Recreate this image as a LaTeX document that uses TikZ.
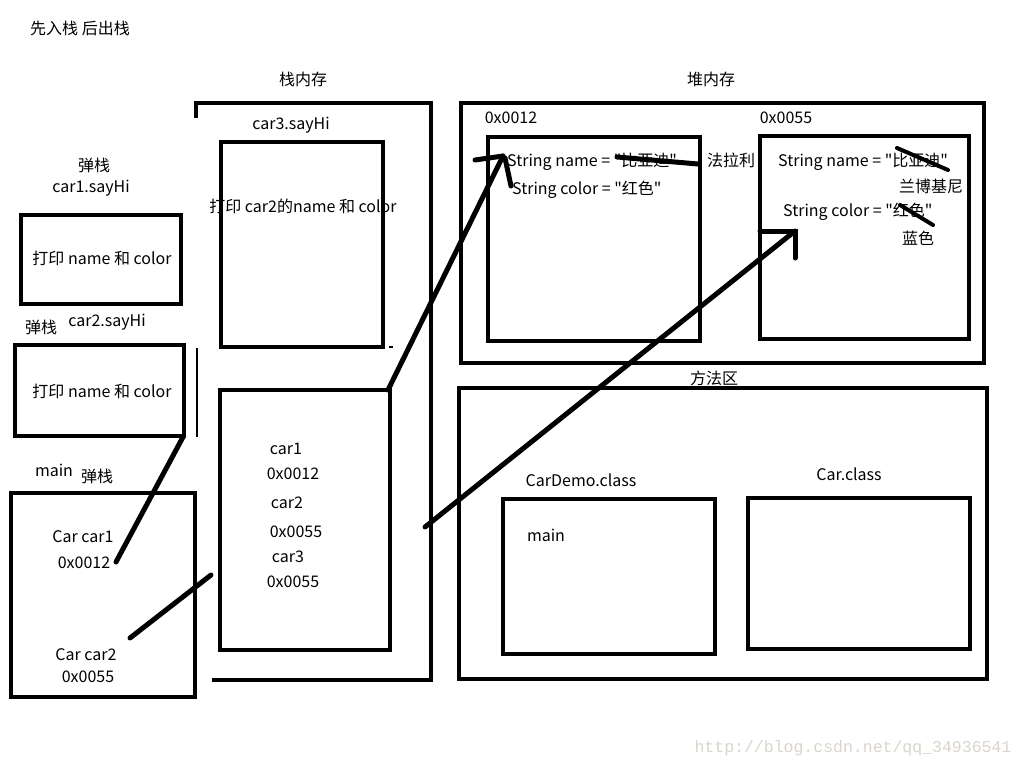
\documentclass[tikz,border=0pt]{standalone}
\usepackage{fontspec}
\newfontfamily\cjk{Noto Sans CJK SC}
\newfontfamily\wmfont{Liberation Mono}
\definecolor{wmgray}{RGB}{218,214,204}
\begin{document}
\begin{tikzpicture}[x=1pt,y=-1pt,
  box/.style={line width=4pt},
  pen/.style={line width=5pt, line cap=round},
  thin/.style={line width=1.5pt},
  lbl/.style={inner sep=0pt, font=\cjk\fontsize{16}{19}\selectfont}]
\useasboundingbox[fill=white] (0,0) rectangle (1024,768);

% ---- labels on top
\node[lbl] (title) at (80,28) {先入栈 后出栈};
\node[lbl] (stacklbl) at (303,79) {栈内存};
\node[lbl] (heaplbl) at (711,79) {堆内存};

% ---- stack memory outline
\draw[box] (196,118) -- (196,103) -- (431,103) -- (431,680) -- (212,680);

% car3.sayHi frame
\draw[box] (221,142) rectangle (383,347);
\draw[thin] (389,347) -- (393,347);
\node[lbl] (c3say) at (291,125) {car3.sayHi};
\node[lbl] (c3txt) at (303,206) {打印 car2的name 和 color};

% main frame in stack memory
\draw[box] (220,390) rectangle (390,650);
\node[lbl] (s1) at (286,449) {car1};
\node[lbl] (s2) at (293,474) {0x0012};
\node[lbl] (s3) at (287,503) {car2};
\node[lbl] (s4) at (296,532) {0x0055};
\node[lbl] (s5) at (288,557) {car3};
\node[lbl] (s6) at (293,582) {0x0055};

% ---- left popped frames
\node[lbl] (pop1) at (94,165) {弹栈};
\node[lbl] (c1say) at (91,188) {car1.sayHi};
\draw[box] (21,215) rectangle (181,304);
\node[lbl] (c1txt) at (102,258) {打印 name 和 color};

\node[lbl] (pop2) at (41,327) {弹栈};
\node[lbl] (c2say) at (107,322) {car2.sayHi};
\draw[box] (15,345) rectangle (184,436);
\node[lbl] (c2txt) at (102,391) {打印 name 和 color};
\draw[thin] (197,348) -- (197,437);

\node[lbl] (mainlbl) at (54,470) {main};
\node[lbl] (pop3) at (97,476) {弹栈};
\draw[box] (11,493) rectangle (195,697);
\node[lbl] (m1) at (83,537) {Car car1};
\node[lbl] (m2) at (84,563) {0x0012};
\node[lbl] (m3) at (86,655) {Car car2};
\node[lbl] (m4) at (88,677) {0x0055};

% ---- heap
\draw[box] (461,103) rectangle (984,363);
\node[lbl] (a1) at (511,118) {0x0012};
\draw[box] (488,137) rectangle (700,341);
\node[lbl,anchor=west] (h1n) at (507,162) {String name = "比亚迪"};
\node[lbl,anchor=west] (h1c) at (512,190) {String color = "红色"};
\node[lbl] (fll) at (731,160) {法拉利};

\node[lbl] (a2) at (786,118) {0x0055};
\draw[box] (760,136) rectangle (969,339);
\node[lbl,anchor=west] (h2n) at (778,162) {String name = "比亚迪"};
\node[lbl] (lbjn) at (931,186) {兰博基尼};
\node[lbl,anchor=west] (h2c) at (783,212) {String color = "红色"};
\node[lbl] (blue) at (918,238) {蓝色};

% strike-throughs
\draw[pen] (617,157) -- (698,164);
\draw[pen, line width=4pt] (897,148) -- (948,170);
\draw[pen, line width=4pt] (900,205) -- (933,225);

% ---- method area
\node[lbl] (methlbl) at (714,378) {方法区};
\draw[box] (459,388) rectangle (987,679);
\node[lbl] (cdlbl) at (581,480) {CarDemo.class};
\draw[box] (503,499) rectangle (715,654);
\node[lbl] (cdmain) at (546,535) {main};
\node[lbl] (clbl) at (849,474) {Car.class};
\draw[box] (748,498) rectangle (970,649);

% ---- reference lines
\coordinate (p1a) at (116,562); \coordinate (p1b) at (183,437);
\draw[pen] (p1a) -- (p1b);
\coordinate (p2a) at (130,638); \coordinate (p2b) at (211,575);
\draw[pen] (p2a) -- (p2b);
\coordinate (p3a) at (388,390); \coordinate (p3b) at (503,156);
\draw[pen] (p3a) -- (p3b);
\draw[pen] (475,160) -- (p3b);
\draw[pen] (505,158) -- (511,186);
\coordinate (p4a) at (425,527); \coordinate (p4b) at (795,231);
\draw[pen] (p4a) -- (p4b);
\draw[pen] (760,231) -- (p4b) -- (795,258);

% ---- watermark
\node[inner sep=0pt, text=wmgray, font=\wmfont\fontsize{16.5}{18}\selectfont] (wm) at (853,748) {http://blog.csdn.net/qq\_34936541};
\end{tikzpicture}
\end{document}
